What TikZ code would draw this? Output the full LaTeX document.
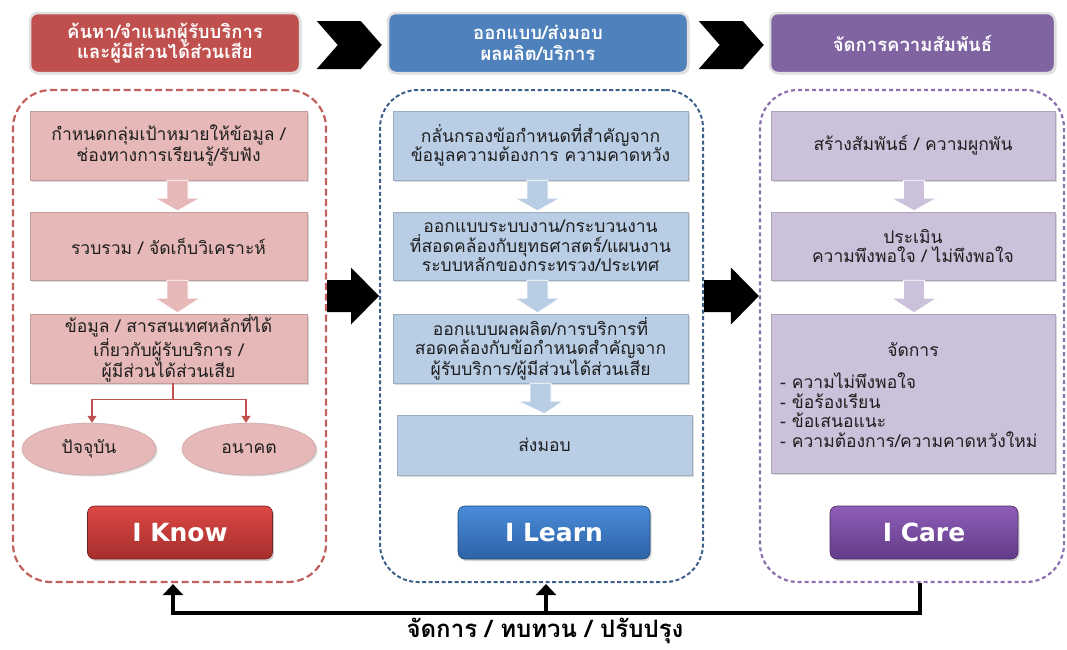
\documentclass[tikz,border=0pt]{standalone}
\usepackage{fontspec}
\setmainfont{Loma}[Script=Thai]
\newfontfamily\btnfont{DejaVu Sans}
\usetikzlibrary{shapes.geometric,shadows,arrows.meta,calc}
\definecolor{redH}{HTML}{C0504D}
\definecolor{blueH}{HTML}{4F81BD}
\definecolor{purpH}{HTML}{8064A2}
\definecolor{redL}{HTML}{E6B9B8}
\definecolor{blueL}{HTML}{B9CDE5}
\definecolor{purpL}{HTML}{CCC1DA}
\definecolor{redD}{HTML}{C2605E}
\definecolor{blueD}{HTML}{3D5F8C}
\definecolor{purpD}{HTML}{8A70AE}
\definecolor{txt}{HTML}{1E1E1E}
\definecolor{knowT}{HTML}{DC4744}
\definecolor{knowB}{HTML}{A52F2D}
\definecolor{learnT}{HTML}{4A8CDA}
\definecolor{learnB}{HTML}{2D62A6}
\definecolor{careT}{HTML}{8E5DB8}
\definecolor{careB}{HTML}{623C88}
\newcommand\blockdown[4]{%
  \path ($(#1.south)+(#4,0)$) coordinate (bt) ($(#2.north)+(#4,-1)$) coordinate (bh);
  \path[fill=#3, draw=white, line width=.8pt]
    ($(bt)+(-10.5,0)$) -- ($(bt)+(-10.5,18)$) -- ($(bt)+(-22.5,18)$) -- (bh)
    -- ($(bt)+(22.5,18)$) -- ($(bt)+(10.5,18)$) -- ($(bt)+(10.5,0)$) -- cycle;}
\newcommand\bigright[2]{%
  \path (#1.east |- 0,296) coordinate (bs) (#2.west |- 0,296) coordinate (bp);
  \fill[black] ($(bs)+(0,-16)$) -- ($(bp)+(-28,-16)$) -- ($(bp)+(-28,-28.5)$) -- (bp)
    -- ($(bp)+(-28,28.5)$) -- ($(bp)+(-28,16)$) -- ($(bs)+(0,16)$) -- cycle;}
\newcommand\chevron[1]{%
  \path ($(#1.west)+(-5,2)$) coordinate (cv);
  \fill[black] ($(cv)+(-65,-24)$) -- ($(cv)+(-21,-24)$) -- (cv) -- ($(cv)+(-21,24)$)
    -- ($(cv)+(-65,24)$) -- ($(cv)+(-44,0)$) -- cycle;}
\begin{document}
\begin{tikzpicture}[x=1pt,y=-1pt,
  hdr/.style={rounded corners=8pt, draw=black!12, line width=2.5pt, minimum height=60pt,
    text=white, font=\bfseries\fontsize{18.5}{20.5}\selectfont, align=center, inner sep=0pt,
    drop shadow={opacity=.25,shadow xshift=1.5pt,shadow yshift=-1.5pt}},
  cont/.style={rounded corners=38pt, line width=2.2pt, minimum width=#1},
  ibox/.style={draw=#1!85!black, line width=.4pt, fill=#1, text=txt, align=center, inner sep=0pt,
    font=\fontsize{17.5}{19.3}\selectfont,
    drop shadow={opacity=.3,shadow xshift=1.5pt,shadow yshift=-1.5pt}},
  oval/.style={ellipse, fill=redL, draw=redL!85!black, line width=.4pt, minimum width=134pt,
    minimum height=52pt, text=txt, font=\fontsize{17.5}{19}\selectfont, inner sep=0pt,
    drop shadow={opacity=.3,shadow xshift=1.5pt,shadow yshift=-1.5pt}},
  btn/.style={rounded corners=7pt, minimum height=53pt, draw=#1!70!black, line width=.6pt,
    text=white, font=\btnfont\bfseries\fontsize{25}{28}\selectfont,
    drop shadow={opacity=.35,shadow xshift=1.5pt,shadow yshift=-2pt}},
  link/.style={draw=redH, line width=1.3pt, -{Triangle[width=9pt,length=7pt]}},
  fb/.style={draw=black, line width=3.5pt},
  fbarrow/.style={fb, -{Triangle[width=20pt,length=11pt]}}]
\useasboundingbox (0,0) rectangle (1067,649);

% header boxes
\node[hdr, fill=redH, minimum width=270pt] (h1) at (165,43) {ค้นหา/จำแนกผู้รับบริการ\\และผู้มีส่วนได้ส่วนเสีย};
\node[hdr, fill=blueH, minimum width=300pt] (h2) at (538,43) {ออกแบบ/ส่งมอบ\\ผลผลิต/บริการ};
\node[hdr, fill=purpH, minimum width=285pt] (h3) at (912.5,43) {จัดการความสัมพันธ์};
\chevron{h2}
\chevron{h3}

% dashed containers
\node[cont=313pt, minimum height=492pt, draw=redD, dash pattern=on 7pt off 3.5pt] (c1) at (169.5,336) {};
\node[cont=323pt, minimum height=492pt, draw=blueD, line width=2pt, dash pattern=on 4pt off 2.5pt] (c2) at (541.5,336) {};
\node[cont=304pt, minimum height=492pt, draw=purpD, dash pattern=on 4pt off 3pt] (c3) at (912,336) {};

% red column
\node[ibox=redL, minimum width=277pt, minimum height=69pt] (r1) at (168.5,145.5) {กำหนดกลุ่มเป้าหมายให้ข้อมูล /\\ช่องทางการเรียนรู้/รับฟัง};
\node[ibox=redL, minimum width=277pt, minimum height=68pt] (r2) at (168.5,246) {รวบรวม / จัดเก็บวิเคราะห์};
\node[ibox=redL, minimum width=277pt, minimum height=69pt] (r3) at (168.5,348.5) {ข้อมูล / สารสนเทศหลักที่ได้\\เกี่ยวกับผู้รับบริการ /\\ผู้มีส่วนได้ส่วนเสีย};
\blockdown{r1}{r2}{redL}{9}
\blockdown{r2}{r3}{redL}{9}
\node[oval] (e1) at (89,449) {ปัจจุบัน};
\node[oval] (e2) at (249,449) {อนาคต};
\coordinate (rj) at ($(r3.south)+(4.5,16)$);
\draw[redH, line width=1.3pt] ($(r3.south)+(4.5,0)$) -- (rj);
\draw[link] (rj) -| ($(e1.north)+(3,0)$);
\draw[link] (rj) -| ($(e2.north)+(-3,0)$);
\node[btn=knowB, top color=knowT, bottom color=knowB, minimum width=185pt] (b1) at (180,532.5) {I Know};

% blue column
\node[ibox=blueL, minimum width=295pt, minimum height=69pt] (u1) at (540.5,145.5) {กลั่นกรองข้อกำหนดที่สำคัญจาก\\ข้อมูลความต้องการ ความคาดหวัง};
\node[ibox=blueL, minimum width=295pt, minimum height=68pt] (u2) at (540.5,246) {ออกแบบระบบงาน/กระบวนงาน\\ที่สอดคล้องกับยุทธศาสตร์/แผนงาน\\ระบบหลักของกระทรวง/ประเทศ};
\node[ibox=blueL, minimum width=295pt, minimum height=69pt] (u3) at (540.5,348.5) {ออกแบบผลผลิต/การบริการที่\\สอดคล้องกับข้อกำหนดสำคัญจาก\\ผู้รับบริการ/ผู้มีส่วนได้ส่วนเสีย};
\node[ibox=blueL, minimum width=295pt, minimum height=60pt] (u4) at (544.5,445) {ส่งมอบ};
\blockdown{u1}{u2}{blueL}{-3}
\blockdown{u2}{u3}{blueL}{-3}
\blockdown{u3}{u4}{blueL}{0}
\node[btn=learnB, top color=learnT, bottom color=learnB, minimum width=192pt] (b2) at (554,532.5) {I Learn};

% purple column
\node[ibox=purpL, minimum width=284pt, minimum height=69pt] (p1) at (913,145.5) {สร้างสัมพันธ์ / ความผูกพัน};
\node[ibox=purpL, minimum width=284pt, minimum height=68pt] (p2) at (913,246) {ประเมิน\\ความพึงพอใจ / ไม่พึงพอใจ};
\node[ibox=purpL, minimum width=284pt, minimum height=159pt] (p3) at (913,393.5) {};
\node[text=txt, font=\fontsize{17.5}{19}\selectfont, inner sep=0pt] (p3t) at (913,350) {จัดการ};
\node[text=txt, font=\fontsize{17.5}{19.4}\selectfont, align=left, anchor=north west, inner sep=0pt] (p3l) at (780,373)
  {- ความไม่พึงพอใจ\\- ข้อร้องเรียน\\- ข้อเสนอแนะ\\- ความต้องการ/ความคาดหวังใหม่};
\blockdown{p1}{p2}{purpL}{1}
\blockdown{p2}{p3}{purpL}{1}
\node[btn=careB, top color=careT, bottom color=careB, minimum width=188pt] (b3) at (924,532.5) {I Care};

% big arrows between columns
\bigright{c1}{c2}
\bigright{c2}{c3}

% feedback loop
\coordinate (fbR) at ($(c3.south)+(8,0)$);
\coordinate (fbC) at ($(fbR)+(0,30)$);
\draw[fbarrow] (fbR) -- (fbC) -| ($(c1.south)+(3.5,1)$);
\draw[fbarrow] ($(c2.south)+(4.5,30)$) -- ($(c2.south)+(4.5,1)$);
\node[font=\bfseries\fontsize{24}{27}\selectfont, text=black, inner sep=0pt] (lbl) at (545,631) {จัดการ / ทบทวน / ปรับปรุง};
\end{tikzpicture}
\end{document}
